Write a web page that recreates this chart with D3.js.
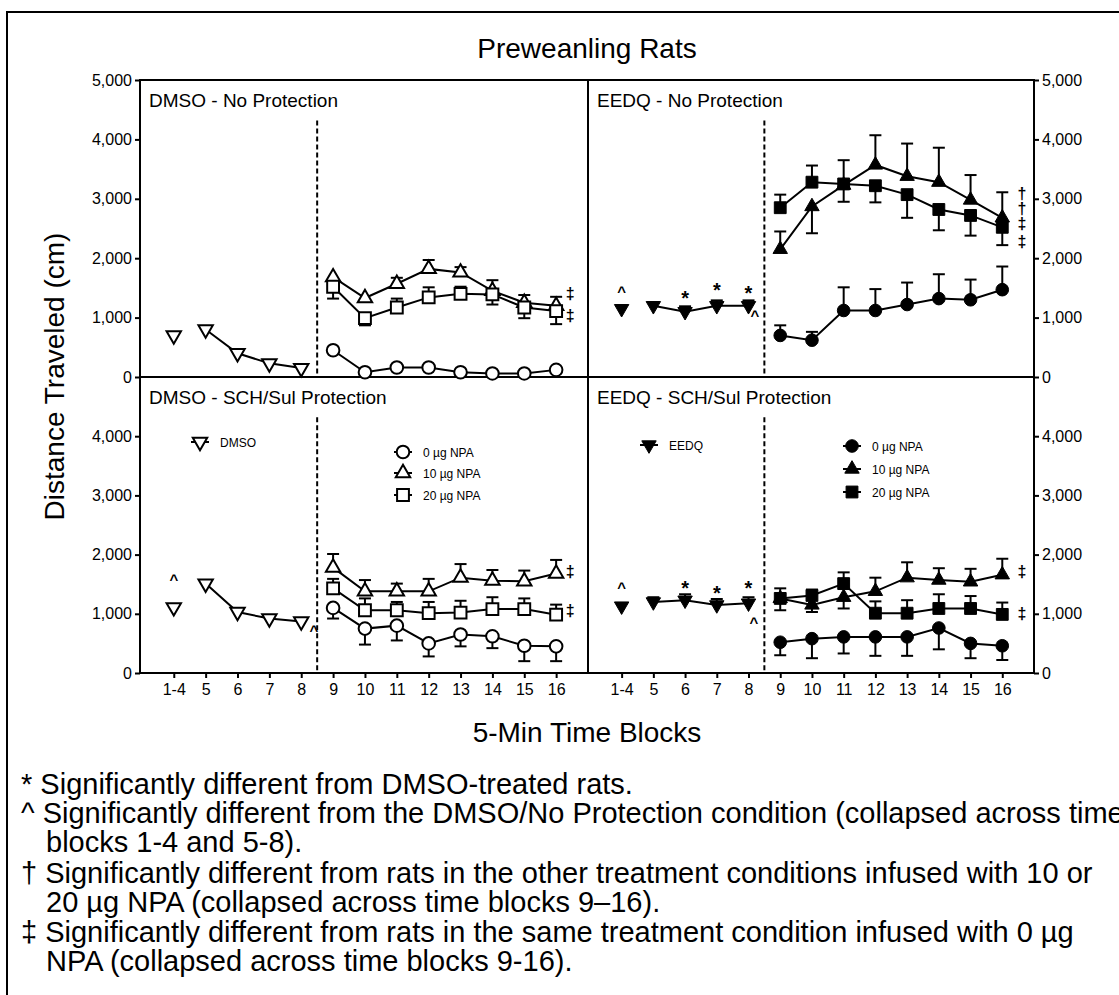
<!DOCTYPE html>
<html lang="en">
<head>
<meta charset="UTF-8">
<title>Preweanling Rats</title>
<script src="https://d3js.org/d3.v7.min.js"></script>
<style>
  body { margin: 0; background: #fff; }
  svg { display: block; font-family: "Liberation Sans", Arial, sans-serif; }
  text { fill: #000; }
</style>
</head>
<body>
<div id="chart"></div>
<script>
// ---- data ----
var blockLabels = ["1-4", "5", "6", "7", "8", "9", "10", "11", "12", "13", "14", "15", "16"];
var yTicksTop = [0, 1000, 2000, 3000, 4000, 5000];
var yTicksBottom = [0, 1000, 2000, 3000, 4000];

// DMSO - No Protection
var dmsoNoPre = [700, 800, 400, 230, 150];
var dmsoNoPreErr = [0, 0, 0, 0, 0];
var dmsoNo0 = [450, 80, 160, 160, 80, 60, 60, 120];
var dmsoNo0Err = [0, 0, 0, 0, 0, 0, 0, 0];
var dmsoNo10 = [1680, 1330, 1570, 1820, 1760, 1450, 1250, 1200];
var dmsoNo10Err = [0, 0, 100, 150, 90, 180, 130, 150];
var dmsoNo20 = [1520, 990, 1170, 1340, 1400, 1390, 1170, 1110];
var dmsoNo20Err = [-200, -120, 150, 170, 120, -170, -180, -220];

// EEDQ - No Protection
var eedqNoPre = [1150, 1200, 1100, 1200, 1200];
var eedqNoPreErr = [0, 60, 90, 90, 90];
var eedqNo0 = [700, 620, 1120, 1120, 1220, 1320, 1300, 1470];
var eedqNo0Err = [170, 140, 390, 360, 370, 410, 340, 390];
var eedqNo10 = [2150, 2870, 3230, 3570, 3380, 3280, 2980, 2680];
var eedqNo10Err = [300, -450, 420, 500, 550, 580, 420, 430];
var eedqNo20 = [2850, 3280, 3250, 3220, 3070, 2820, 2720, 2520];
var eedqNo20Err = [220, 280, -300, -280, -390, -350, -340, -300];

// DMSO - SCH/Sul Protection
var dmsoSchPre = [1110, 1510, 1030, 920, 870];
var dmsoSchPreErr = [0, 0, 0, 0, 0];
var dmsoSch0 = [1100, 750, 800, 500, 650, 620, 460, 450];
var dmsoSch0Err = [-180, -270, -250, -220, -200, -200, -260, -250];
var dmsoSch10 = [1780, 1380, 1380, 1380, 1610, 1560, 1550, 1680];
var dmsoSch10Err = [230, 190, 130, 210, 230, 180, 180, 230];
var dmsoSch20 = [1430, 1060, 1060, 1010, 1020, 1080, 1080, 985];
var dmsoSch20Err = [160, 200, 140, 190, 200, 200, 180, 170];

// EEDQ - SCH/Sul Protection
var eedqSchPre = [1130, 1200, 1230, 1150, 1180];
var eedqSchPreErr = [0, 80, 100, 100, 100];
var eedqSch0 = [520, 580, 610, 610, 610, 760, 500, 460];
var eedqSch0Err = [-220, -330, -280, -320, -320, -360, -250, -240];
var eedqSch10 = [1260, 1150, 1280, 1380, 1610, 1570, 1540, 1660];
var eedqSch10Err = [-200, -120, -190, 230, 260, 200, 220, 270];
var eedqSch20 = [1260, 1310, 1510, 1010, 1010, 1090, 1090, 990];
var eedqSch20Err = [170, 100, 190, 200, 220, 240, 210, 200];

// significance marks: [panel, block index, value, glyph]
var marks = [
  [0, 12.44, 1380, "‡"], [0, 12.44, 1010, "‡"],
  [1, 0, 1465, "^"], [1, 2, 1414, "*"], [1, 3, 1549, "*"], [1, 4, 1498, "*"], [1, 4.2, 1077, "^"],
  [1, 12.62, 3064, "†"], [1, 12.62, 2811, "†"], [1, 12.62, 2559, "‡"], [1, 12.62, 2256, "‡"],
  [2, 0, 1616, "^"], [2, 4.4, 757, "^"], [2, 12.44, 1683, "‡"], [2, 12.44, 1027, "‡"],
  [3, 0, 1481, "^"], [3, 2, 1515, "*"], [3, 3, 1431, "*"], [3, 4, 1515, "*"], [3, 4.17, 892, "^"],
  [3, 12.62, 1683, "‡"], [3, 12.62, 976, "‡"]
];

var footnotes = [
  "* Significantly different from DMSO-treated rats.",
  "^ Significantly different from the DMSO/No Protection condition (collapsed across time",
  "blocks 1-4 and 5-8).",
  "† Significantly different from rats in the other treatment conditions infused with 10 or",
  "20 µg NPA (collapsed across time blocks 9–16).",
  "‡ Significantly different from rats in the same treatment condition infused with 0 µg",
  "NPA (collapsed across time blocks 9-16)."
];

// ---- layout ----
var W = 1119, H = 995;
var plotL = 140, plotM = 588, plotR = 1034;
var plotT = 80, plotMidY = 377, plotB = 673;

var svg = d3.select("#chart").append("svg")
  .attr("width", W)
  .attr("height", H);

var xLeft = d3.scaleLinear().domain([-1.06, 13]).range([plotL, plotM]);
var xRight = d3.scaleLinear().domain([-1.06, 13]).range([plotM, plotR]);
var yTop = d3.scaleLinear().domain([0, 5000]).range([plotMidY, plotT]);
var yBot = d3.scaleLinear().domain([0, 5000]).range([plotB, plotMidY]);

function series(shape, start, v, e, connectFrom) {
  return { shape: shape, start: start, v: v, e: e, connectFrom: connectFrom || 0 };
}

var panels = [
  { label: "DMSO - No Protection", x: xLeft, y: yTop, filled: false,
    list: [series("down", 0, dmsoNoPre, dmsoNoPreErr, 1),
           series("circle", 5, dmsoNo0, dmsoNo0Err),
           series("tri", 5, dmsoNo10, dmsoNo10Err),
           series("square", 5, dmsoNo20, dmsoNo20Err)] },
  { label: "EEDQ - No Protection", x: xRight, y: yTop, filled: true,
    list: [series("down", 0, eedqNoPre, eedqNoPreErr, 1),
           series("circle", 5, eedqNo0, eedqNo0Err),
           series("tri", 5, eedqNo10, eedqNo10Err),
           series("square", 5, eedqNo20, eedqNo20Err)] },
  { label: "DMSO - SCH/Sul Protection", x: xLeft, y: yBot, filled: false,
    list: [series("down", 0, dmsoSchPre, dmsoSchPreErr, 1),
           series("circle", 5, dmsoSch0, dmsoSch0Err),
           series("tri", 5, dmsoSch10, dmsoSch10Err),
           series("square", 5, dmsoSch20, dmsoSch20Err)] },
  { label: "EEDQ - SCH/Sul Protection", x: xRight, y: yBot, filled: true,
    list: [series("down", 0, eedqSchPre, eedqSchPreErr, 1),
           series("circle", 5, eedqSch0, eedqSch0Err),
           series("tri", 5, eedqSch10, eedqSch10Err),
           series("square", 5, eedqSch20, eedqSch20Err)] }
];

var symbolGen = {
  circle: d3.symbol().type(d3.symbolCircle).size(125),
  tri: d3.symbol().type(d3.symbolTriangle).size(90),
  down: d3.symbol().type(d3.symbolTriangle).size(90),
  square: d3.symbol().type(d3.symbolSquare).size(140)
};

function marker(g, shape, filled, x, y) {
  g.append("path")
    .attr("d", symbolGen[shape]())
    .attr("transform", "translate(" + x + "," + y + ")" + (shape === "down" ? " rotate(180)" : ""))
    .attr("fill", filled ? "#000" : "#fff")
    .attr("stroke", "#000")
    .attr("stroke-width", filled ? 1 : 2);
}

// outer frame (scan border)
svg.append("path")
  .attr("d", "M7,995 L7,12 L1119,12")
  .attr("fill", "none").attr("stroke", "#000").attr("stroke-width", 2);

// title and axis labels
svg.append("text").attr("x", (plotL + plotR) / 2).attr("y", 58)
  .attr("text-anchor", "middle").attr("font-size", 28).text("Preweanling Rats");
svg.append("text").attr("x", (plotL + plotR) / 2).attr("y", 742)
  .attr("text-anchor", "middle").attr("font-size", 28).text("5-Min Time Blocks");
svg.append("text").attr("transform", "translate(64," + ((plotT + plotB) / 2) + ") rotate(-90)")
  .attr("text-anchor", "middle").attr("font-size", 28).text("Distance Traveled (cm)");

// y axes
function yAxis(axisFn, scale, ticks, xPos) {
  var g = svg.append("g").attr("transform", "translate(" + xPos + ",0)")
    .call(axisFn(scale).tickValues(ticks).tickFormat(d3.format(",")).tickSize(5).tickPadding(3));
  g.select(".domain").remove();
  g.selectAll(".tick line").attr("stroke", "#000").attr("stroke-width", 2);
  g.selectAll(".tick text").attr("font-size", 16).attr("fill", "#000")
    .attr("font-family", "Liberation Sans, Arial, sans-serif");
}
yAxis(d3.axisLeft, yTop, yTicksTop, plotL);
yAxis(d3.axisLeft, yBot, yTicksBottom, plotL);
yAxis(d3.axisRight, yTop, yTicksTop, plotR);
yAxis(d3.axisRight, yBot, yTicksBottom, plotR);

// x axes
[xLeft, xRight].forEach(function(sc) {
  var g = svg.append("g").attr("transform", "translate(0," + plotB + ")")
    .call(d3.axisBottom(sc).tickValues(d3.range(blockLabels.length))
      .tickFormat(function(i) { return blockLabels[i]; }).tickSize(5).tickPadding(6));
  g.select(".domain").remove();
  g.selectAll(".tick line").attr("stroke", "#000").attr("stroke-width", 2);
  g.selectAll(".tick text").attr("font-size", 16).attr("fill", "#000")
    .attr("font-family", "Liberation Sans, Arial, sans-serif");
});

// plot frame
var frame = svg.append("g").attr("stroke", "#000").attr("stroke-width", 2).attr("fill", "none");
frame.append("rect").attr("x", plotL).attr("y", plotT).attr("width", plotR - plotL).attr("height", plotB - plotT);
frame.append("line").attr("x1", plotL).attr("x2", plotR).attr("y1", plotMidY).attr("y2", plotMidY);
frame.append("line").attr("x1", plotM).attr("x2", plotM).attr("y1", plotT).attr("y2", plotB);

// panels
panels.forEach(function(p) {
  var g = svg.append("g");
  var yBase = p.y.range()[0];
  g.append("text").attr("x", p.x.range()[0] + 9).attr("y", p.y.range()[1] + 27)
    .attr("font-size", 19).text(p.label);

  // divider between drug and NPA blocks
  g.append("line")
    .attr("x1", p.x(4.5)).attr("x2", p.x(4.5))
    .attr("y1", p.y(4320)).attr("y2", yBase)
    .attr("stroke", "#000").attr("stroke-width", 2).attr("stroke-dasharray", "5,3");

  p.list.forEach(function(s) {
    var pts = s.v.map(function(v, k) { return { i: s.start + k, v: v, e: s.e[k] }; });
    var sg = g.append("g");
    sg.append("path")
      .datum(pts.slice(s.connectFrom))
      .attr("d", d3.line().x(function(d) { return p.x(d.i); }).y(function(d) { return p.y(d.v); }))
      .attr("fill", "none").attr("stroke", "#000").attr("stroke-width", 2);
    pts.forEach(function(d) {
      if (!d.e) return;
      var x = p.x(d.i), y0 = p.y(d.v), y1 = p.y(d.v + d.e);
      sg.append("line").attr("x1", x).attr("x2", x).attr("y1", y0).attr("y2", y1)
        .attr("stroke", "#000").attr("stroke-width", 2);
      sg.append("line").attr("x1", x - 6).attr("x2", x + 6).attr("y1", y1).attr("y2", y1)
        .attr("stroke", "#000").attr("stroke-width", 2);
    });
    pts.forEach(function(d) { marker(sg, s.shape, p.filled, p.x(d.i), p.y(d.v)); });
  });
});

// legends (bottom panels)
function legendEntry(x, y, shape, filled, label) {
  var g = svg.append("g");
  g.append("line").attr("x1", x - 9).attr("x2", x + 9).attr("y1", y).attr("y2", y)
    .attr("stroke", "#000").attr("stroke-width", 2);
  marker(g, shape, filled, x, y);
  g.append("text").attr("x", x + 20).attr("y", y + 4.5).attr("font-size", 12).text(label);
}
legendEntry(200, 442, "down", false, "DMSO");
legendEntry(403, 452, "circle", false, "0 µg NPA");
legendEntry(403, 473, "tri", false, "10 µg NPA");
legendEntry(403, 495, "square", false, "20 µg NPA");
legendEntry(649, 445, "down", true, "EEDQ");
legendEntry(852, 446, "circle", true, "0 µg NPA");
legendEntry(852, 469, "tri", true, "10 µg NPA");
legendEntry(852, 492, "square", true, "20 µg NPA");

// significance marks
var glyphStyle = { "^": [15, "0.5em"], "*": [20, "0.58em"], "†": [16, "0.25em"], "‡": [16, "0.25em"] };
marks.forEach(function(m) {
  var p = panels[m[0]];
  svg.append("text")
    .attr("x", p.x(m[1])).attr("y", p.y(m[2]))
    .attr("dy", glyphStyle[m[3]][1])
    .attr("text-anchor", "middle")
    .attr("font-size", glyphStyle[m[3]][0])
    .attr("fill", "#000")
    .style("font-weight", "bold")
    .text(m[3]);
});

// footnotes
var noteY = [794, 823, 852, 883, 912, 942, 971];
footnotes.forEach(function(t, k) {
  var indent = (k === 2 || k === 4 || k === 6);
  svg.append("text").attr("x", indent ? 46 : 21).attr("y", noteY[k])
    .attr("font-size", 29).text(t);
});
</script>
</body>
</html>
